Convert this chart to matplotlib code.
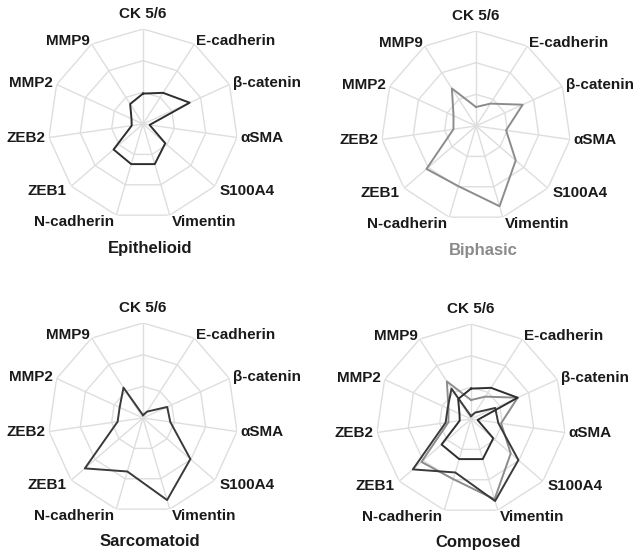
import numpy as np
import matplotlib
matplotlib.use("Agg")
import matplotlib.pyplot as plt

plt.rcParams["font.family"] = ["Liberation Sans", "DejaVu Sans"]
plt.rcParams["font.weight"] = "bold"

# marker panel, clockwise from the top
markers = ["CK 5/6", "E-cadherin", "β-catenin", "αSMA", "S100A4", "Vimentin",
           "N-cadherin", "ZEB1", "ZEB2", "MMP2", "MMP9"]

# mean scores (0-3) per histotype
epithelioid = [0.96, 1.17, 1.62, 0.21, 0.93, 1.32, 1.32, 1.23, 0.36, 0.40, 0.75]
biphasic = [0.60, 0.84, 1.62, 0.96, 1.66, 2.64, 1.98, 2.07, 0.72, 0.78, 1.41]
sarcomatoid = [0.09, 0.24, 0.84, 0.87, 1.98, 2.70, 1.76, 2.43, 0.81, 0.81, 1.14]

rings = [1, 2, 3]
rmax = 3

c_epi = "#2e2e2e"
c_bip = "#8c8c8c"
c_sar = "#3a3a3a"
grid_c = "#dedede"

W, H = 634, 555
fig = plt.figure(figsize=(W / 100, H / 100), dpi=100)

n = len(markers)
theta = np.arange(n) * 2 * np.pi / n
theta_closed = np.append(theta, theta[0])


def radar(cx, cy, title, title_color, series, R=95):
    ax = fig.add_axes([(cx - R) / W, (H - cy - R) / H, 2 * R / W, 2 * R / H],
                      projection="polar")
    ax.set_theta_zero_location("N")
    ax.set_theta_direction(-1)
    ax.set_ylim(0, rmax)
    ax.axis("off")

    # polygonal grid + spokes
    for r in rings:
        ax.plot(theta_closed, [r] * (n + 1), color=grid_c, lw=1.0, zorder=1)
    for t in theta:
        ax.plot([t, t], [0, rmax], color=grid_c, lw=1.0, zorder=1)

    for vals, col in series:
        v = np.append(vals, vals[0])
        ax.plot(theta_closed, v, color=col, lw=1.4, zorder=3)

    for t, lab in zip(theta, markers):
        deg = np.degrees(t)
        if deg == 0:
            ax.text(t, rmax * 1.08, lab, ha="center", va="bottom", fontsize=11,
                    fontweight="bold", color="#1a1a1a")
            continue
        ha = "left" if deg < 180 else "right"
        r = rmax * (1.04 if np.cos(t) > -0.5 else 1.07)
        ax.text(t, r, lab, ha=ha, va="center", fontsize=11,
                fontweight="bold", color="#1a1a1a")

    fig.text((cx + 7) / W, 1 - (cy + 124) / H, title, ha="center", va="center",
             fontsize=12, fontweight="bold", color=title_color)
    return ax


radar(143, 124, "Epithelioid", "#1a1a1a", [(epithelioid, c_epi)])
radar(476, 126, "Biphasic", "#8a8a8a", [(biphasic, c_bip)])
radar(143, 418, "Sarcomatoid", "#1a1a1a", [(sarcomatoid, c_sar)])
radar(471, 419, "Composed", "#1a1a1a",
      [(biphasic, c_bip), (sarcomatoid, c_sar), (epithelioid, c_epi)])

fig.savefig("out.png", dpi=100)
